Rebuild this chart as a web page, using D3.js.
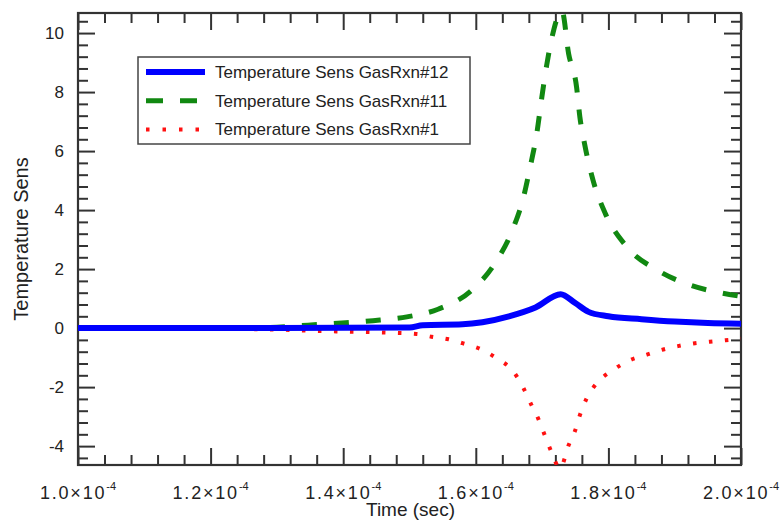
<!DOCTYPE html>
<html><head><meta charset="utf-8">
<script src="https://cdn.jsdelivr.net/npm/d3@7/dist/d3.min.js"></script>
<style>
body{margin:0;background:#fff}
text{font-family:"Liberation Sans",Arial,Helvetica,sans-serif;fill:#222}
</style>
</head><body>
<svg id="chart" width="780" height="521"></svg>
<script>
// ---- data (time in seconds) ----
const seriesNames = ["Temperature Sens GasRxn#12", "Temperature Sens GasRxn#11", "Temperature Sens GasRxn#1"];

const time12 = [1.0e-4, 1.3e-4, 1.5e-4, 1.52e-4, 1.58e-4, 1.61e-4, 1.65e-4, 1.69e-4, 1.728e-4, 1.75e-4, 1.77e-4, 1.80e-4, 1.85e-4, 1.90e-4, 1.95e-4, 2.0e-4];
const sens12 = [0.0, 0.0, 0.02, 0.1, 0.13, 0.2, 0.4, 0.7, 1.15, 0.85, 0.55, 0.4, 0.3, 0.22, 0.17, 0.15];

const time11 = [1.0e-4, 1.2e-4, 1.3e-4, 1.347e-4, 1.398e-4, 1.445e-4, 1.496e-4, 1.543e-4, 1.591e-4, 1.629e-4, 1.657e-4, 1.672e-4, 1.682e-4, 1.692e-4, 1.699e-4, 1.707e-4, 1.714e-4, 1.730e-4, 1.740e-4, 1.752e-4, 1.757e-4, 1.765e-4, 1.777e-4, 1.795e-4, 1.828e-4, 1.875e-4, 1.923e-4, 1.971e-4, 2.0e-4];
const sens11 = [0.0, 0.0, 0.03, 0.1, 0.17, 0.25, 0.38, 0.64, 1.23, 2.2, 3.42, 4.44, 5.46, 6.6, 7.73, 8.92, 9.76, 10.75, 9.3, 8.17, 7.15, 6.14, 5.0, 3.9, 2.75, 1.95, 1.46, 1.19, 1.08];

const time1 = [1.0e-4, 1.2e-4, 1.3e-4, 1.365e-4, 1.41e-4, 1.46e-4, 1.511e-4, 1.533e-4, 1.559e-4, 1.581e-4, 1.606e-4, 1.632e-4, 1.657e-4, 1.672e-4, 1.684e-4, 1.694e-4, 1.704e-4, 1.714e-4, 1.727e-4, 1.740e-4, 1.750e-4, 1.757e-4, 1.767e-4, 1.782e-4, 1.807e-4, 1.833e-4, 1.858e-4, 1.880e-4, 1.905e-4, 1.928e-4, 1.953e-4, 1.977e-4, 2.0e-4];
const sens1 = [0.0, -0.02, -0.05, -0.1, -0.12, -0.15, -0.2, -0.29, -0.38, -0.52, -0.7, -1.03, -1.48, -2.04, -2.61, -3.06, -3.63, -4.19, -4.75, -3.97, -3.46, -2.95, -2.39, -1.88, -1.42, -1.08, -0.9, -0.74, -0.61, -0.52, -0.46, -0.41, -0.36];

const xTickValues = [1.0e-4, 1.2e-4, 1.4e-4, 1.6e-4, 1.8e-4, 2.0e-4];
const xTickMantissas = ["1.0", "1.2", "1.4", "1.6", "1.8", "2.0"];
const xTickExponent = "-4";
const yTickValues = [-4, -2, 0, 2, 4, 6, 8, 10];
const yTickLabels = ["-4", "-2", "0", "2", "4", "6", "8", "10"];
const xTitle = "Time (sec)";
const yTitle = "Temperature Sens";

// ---- layout ----
const L = 78, R = 741, T = 13, B = 465;
const svg = d3.select("#chart");
const x = d3.scaleLinear().domain([1.0e-4, 2.0e-4]).range([L, R]);
const y = d3.scaleLinear().domain([-4.64, 10.68]).range([B, T]);

const xMinor = d3.range(0, 26).map(i => 1.0e-4 + i * 0.04e-4).filter(v => !xTickValues.some(t => Math.abs(t - v) < 1e-9));
const yMinor = d3.range(-11, 27).map(i => i * 0.4).filter(v => v > -4.64 && v < 10.68 && !yTickValues.some(t => Math.abs(t - v) < 1e-9));

svg.append("defs").append("clipPath").attr("id", "clip")
  .append("rect").attr("x", L).attr("y", T).attr("width", R - L).attr("height", B - T);

const majLen = 17, minLen = 10;
const tickCol = "#333";
function axisBottom(len, vals) { return d3.axisBottom(x).tickValues(vals).tickSize(-len).tickFormat(""); }
function axisTop(len, vals) { return d3.axisTop(x).tickValues(vals).tickSize(-len).tickFormat(""); }
function axisLeft(len, vals) { return d3.axisLeft(y).tickValues(vals).tickSize(-len).tickFormat(""); }
function axisRight(len, vals) { return d3.axisRight(y).tickValues(vals).tickSize(-len).tickFormat(""); }

const ax = svg.append("g").attr("class", "axes");
[[axisBottom, `translate(0,${B})`], [axisTop, `translate(0,${T})`]].forEach(([f, tr]) => {
  ax.append("g").attr("transform", tr).call(f(majLen, xTickValues));
  ax.append("g").attr("transform", tr).call(f(minLen, xMinor));
});
[[axisLeft, `translate(${L},0)`], [axisRight, `translate(${R},0)`]].forEach(([f, tr]) => {
  ax.append("g").attr("transform", tr).call(f(majLen, yTickValues));
  ax.append("g").attr("transform", tr).call(f(minLen, yMinor));
});
ax.selectAll(".domain").remove();
ax.selectAll("line").attr("stroke", tickCol).attr("stroke-width", 2);

// frame
svg.append("rect").attr("x", L).attr("y", T).attr("width", R - L).attr("height", B - T)
  .attr("fill", "none").attr("stroke", tickCol).attr("stroke-width", 2.2);

// tick labels
const xl = svg.append("g");
xTickValues.forEach((v, i) => {
  const t = xl.append("text").attr("x", x(v)).attr("y", 499).attr("text-anchor", "middle")
    .attr("font-size", 18).attr("letter-spacing", 1.8);
  t.append("tspan").text(xTickMantissas[i] + "\u00d710");
  t.append("tspan").attr("dy", -9).attr("font-size", 11).attr("letter-spacing", 0).text(xTickExponent);
});
yTickValues.forEach((v, i) => {
  svg.append("text").attr("x", 64).attr("y", y(v) + 6).attr("text-anchor", "end")
    .attr("font-size", 17).text(yTickLabels[i]);
});

// titles
svg.append("text").attr("x", (L + R) / 2 + 1).attr("y", 516).attr("text-anchor", "middle")
  .attr("font-size", 19).text(xTitle);
svg.append("text").attr("transform", `translate(28,${(T + B) / 2}) rotate(-90)`)
  .attr("text-anchor", "middle").attr("font-size", 20).text(yTitle);

// lines
const line = d3.line().x(d => x(d[0])).y(d => y(d[1])).curve(d3.curveMonotoneX);
const styles = [
  { color: "#0000ff", width: 6, dash: null },
  { color: "#118811", width: 5, dash: "15,17" },
  { color: "#ff1111", width: 4, dash: "3.5,12.5" }
];
const data = [d3.zip(time12, sens12), d3.zip(time11, sens11), d3.zip(time1, sens1)];
const lg = svg.append("g").attr("clip-path", "url(#clip)");
[2, 1, 0].forEach(i => {
  lg.append("path").datum(data[i]).attr("d", line).attr("fill", "none")
    .attr("stroke", styles[i].color).attr("stroke-width", styles[i].width)
    .attr("stroke-dasharray", styles[i].dash);
});

// legend
const leg = svg.append("g");
leg.append("rect").attr("x", 138).attr("y", 57).attr("width", 332).attr("height", 87)
  .attr("fill", "#fff").attr("stroke", "#444").attr("stroke-width", 1.5);
seriesNames.forEach((n, i) => {
  const yy = 72 + i * 28.7;
  leg.append("line").attr("x1", 146).attr("x2", 205).attr("y1", yy).attr("y2", yy)
    .attr("stroke", styles[i].color).attr("stroke-width", styles[i].width)
    .attr("stroke-dasharray", i === 1 ? "17,17" : i === 2 ? "3.5,13" : null);
  leg.append("text").attr("x", 215).attr("y", yy + 6).attr("font-size", 17).text(n);
});
</script>
</body></html>
